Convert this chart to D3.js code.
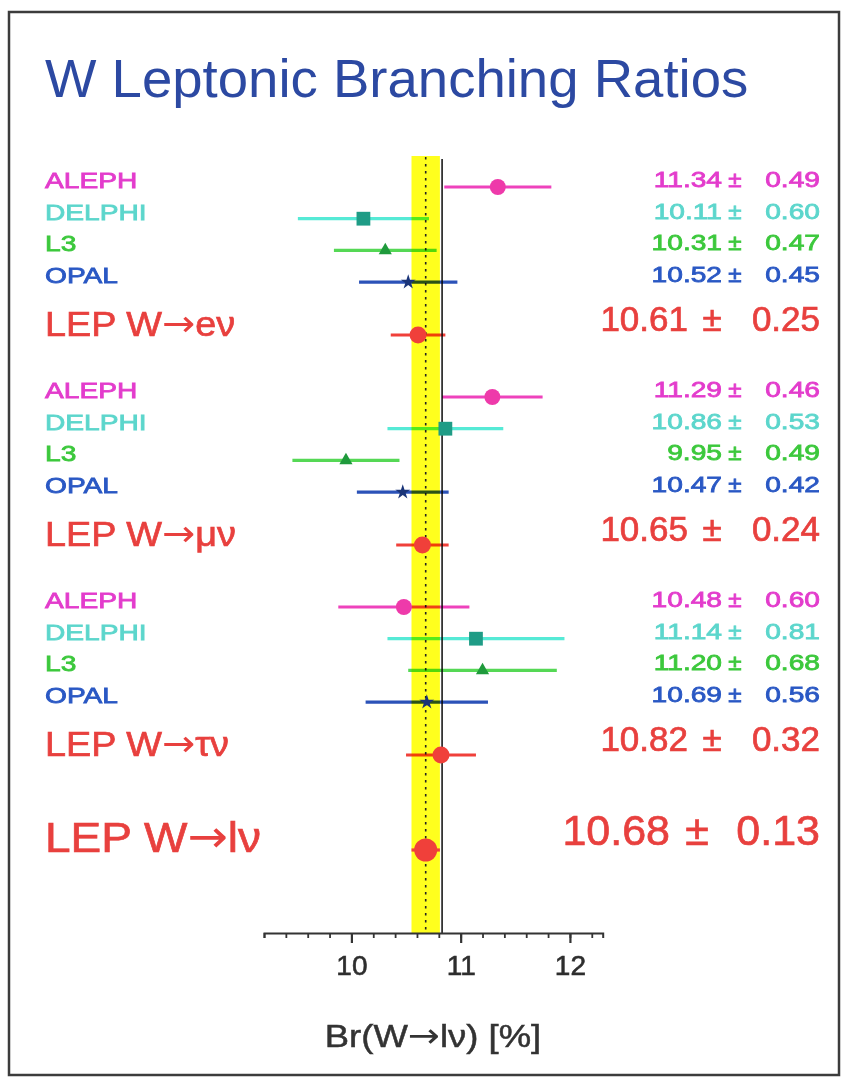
<!DOCTYPE html>
<html>
<head>
<meta charset="utf-8">
<script src="https://cdn.jsdelivr.net/npm/d3@7"></script>
<style>
  html, body { margin: 0; padding: 0; background: #fff; }
  svg { display: block; }
  text { font-family: "Liberation Sans", Arial, Helvetica, sans-serif; }
</style>
</head>
<body>
<svg id="chart" width="844" height="1080"></svg>
<script>
// W leptonic branching ratios measured by the four LEP experiments, in %
const experiments = ["ALEPH", "DELPHI", "L3", "OPAL"];
const channels = ["e", "μ", "τ"];
const channelLabels = ["LEP W→eν", "LEP W→μν", "LEP W→τν"];

const brValues = [
  [11.34, 10.11, 10.31, 10.52],   // W→eν
  [11.29, 10.86,  9.95, 10.47],   // W→μν
  [10.48, 11.14, 11.20, 10.69]    // W→τν
];
const brErrors = [
  [0.49, 0.60, 0.47, 0.45],
  [0.46, 0.53, 0.49, 0.42],
  [0.60, 0.81, 0.68, 0.56]
];
const lepValues = [10.61, 10.65, 10.82];
const lepErrors = [0.25, 0.24, 0.32];

const combinedLabel = "LEP W→lν";
const combinedValue = 10.68;
const combinedError = 0.13;

const smPrediction = 10.83;

const tickValues = [10, 11, 12];
const axisTitle = "Br(W→lν) [%]";
const chartTitle = "W Leptonic Branching Ratios";

// ---- styling ----
const expStyle = {
  ALEPH:  { bar: "#ee42bc", text: "#e33ccc", mark: "#ee3aaa", symbol: d3.symbolCircle,   size: 200 },
  DELPHI: { bar: "#56ead6", text: "#5cd6cc", mark: "#1f9c86", symbol: d3.symbolSquare,   size: 190 },
  L3:     { bar: "#55d855", text: "#3cc83c", mark: "#1f9a3c", symbol: d3.symbolTriangle, size: 75 },
  OPAL:   { bar: "#2b52b8", text: "#2a58c4", mark: "#1a3478", symbol: d3.symbolStar,     size: 70 }
};
const lepColor = "#f0403a";
const lepText = "#e8403e";

const svg = d3.select("#chart");

// outer frame
svg.append("rect")
  .attr("x", 9).attr("y", 12).attr("width", 830).attr("height", 1063)
  .attr("fill", "#fff").attr("stroke", "#3c3c3c").attr("stroke-width", 2.5);

// scales
const x = d3.scaleLinear().domain([9.2, 12.3]).range([264, 602.7]);
// vertical layout: each channel block has four experiment rows and a LEP row
const rowStep = 31.7, groupStep = 210, lepOffset = 148, firstRow = 187;
const y = d3.scaleLinear().domain([0, 1]).range([firstRow, firstRow + rowStep]);
const rowY = (g, i) => y(0) + g * groupStep + i * rowStep;
const lepY = g => y(0) + g * groupStep + lepOffset;
const combinedY = 850;
const axisY = 933;

// title
svg.append("text")
  .attr("x", 45).attr("y", 97)
  .attr("fill", "#2c49a2")
  .attr("font-size", 54)
  .attr("transform", "translate(45,0) scale(1.01,1) translate(-45,0)")
  .text(chartTitle);

// average band, average (dotted) and prediction (solid) lines
svg.append("rect")
  .attr("x", x(combinedValue - combinedError))
  .attr("y", 156)
  .attr("width", x(combinedValue + combinedError) - x(combinedValue - combinedError))
  .attr("height", axisY - 156)
  .attr("fill", "#ffff1e");

svg.append("line")
  .attr("x1", x(combinedValue)).attr("x2", x(combinedValue))
  .attr("y1", 157).attr("y2", axisY)
  .attr("stroke", "#222").attr("stroke-width", 1.6)
  .attr("stroke-dasharray", "2.5,4.5");

svg.append("line")
  .attr("x1", x(smPrediction)).attr("x2", x(smPrediction))
  .attr("y1", 159).attr("y2", axisY)
  .attr("stroke", "#1a1a1a").attr("stroke-width", 1.6);

// text helper: horizontal stretch, optional stroke for weight,
// and a wider arrow glyph taken from DejaVu Sans
function label(g, str, px, py, opts) {
  const t = g.append("text")
    .attr("transform", `translate(${px},${py}) scale(${opts.sx || 1},1)`)
    .attr("font-size", opts.size)
    .attr("fill", opts.fill)
    .attr("text-anchor", opts.anchor || "start");
  if (opts.stroke) t.attr("stroke", opts.fill).attr("stroke-width", opts.stroke);
  const parts = str.split("→");
  parts.forEach((p, k) => {
    if (k > 0) {
      t.append("tspan")
        .attr("font-family", "DejaVu Sans, sans-serif")
        .attr("stroke-width", 0)
        .attr("font-size", opts.size * 1.05)
        .text("→");
    }
    if (p) t.append("tspan").text(p);
  });
  return t;
}

const fmt = d3.format(".2f");
const marks = svg.append("g");
const texts = svg.append("g");

channels.forEach((ch, g) => {
  experiments.forEach((exp, i) => {
    const st = expStyle[exp];
    const v = brValues[g][i], e = brErrors[g][i];
    const yy = rowY(g, i);

    marks.append("line")
      .attr("x1", x(v - e)).attr("x2", x(v + e))
      .attr("y1", yy).attr("y2", yy)
      .attr("stroke", st.bar).attr("stroke-width", 3.2)
      .style("mix-blend-mode", "multiply");
    marks.append("path")
      .attr("d", d3.symbol().type(st.symbol).size(st.size)())
      .attr("transform", `translate(${x(v)},${yy})`)
      .attr("fill", st.mark);

    const small = { size: 22, sx: 1.28, fill: st.text, stroke: 0.8 };
    label(texts, exp, 45, yy + 1, small);
    label(texts, fmt(v), 722, yy, { ...small, anchor: "end" });
    label(texts, "±", 735, yy, { ...small, sx: 1.1, anchor: "middle" });
    label(texts, fmt(e), 820, yy, { ...small, anchor: "end" });
  });

  // LEP average for this channel
  const v = lepValues[g], e = lepErrors[g], yy = lepY(g);
  marks.append("line")
    .attr("x1", x(v - e)).attr("x2", x(v + e))
    .attr("y1", yy).attr("y2", yy)
    .attr("stroke", lepColor).attr("stroke-width", 3.2)
    .style("mix-blend-mode", "multiply");
  marks.append("circle")
    .attr("cx", x(v)).attr("cy", yy).attr("r", 8.5)
    .attr("fill", lepColor);

  const big = { size: 35, fill: lepText, stroke: 0.7 };
  label(texts, channelLabels[g], 45, yy + 1, { ...big, sx: 1.08 });
  label(texts, fmt(v), 688, yy - 4, { ...big, anchor: "end" });
  label(texts, "±", 712, yy - 4, { ...big, anchor: "middle" });
  label(texts, fmt(e), 820, yy - 4, { ...big, anchor: "end" });
});

// overall LEP combination
marks.append("line")
  .attr("x1", x(combinedValue - combinedError)).attr("x2", x(combinedValue + combinedError))
  .attr("y1", combinedY).attr("y2", combinedY)
  .attr("stroke", lepColor).attr("stroke-width", 3.2);
marks.append("circle")
  .attr("cx", x(combinedValue)).attr("cy", combinedY).attr("r", 11.5)
  .attr("fill", lepColor);

const huge = { size: 43, fill: lepText, stroke: 0.7 };
label(texts, combinedLabel, 45, combinedY + 2, { ...huge, sx: 1.07 });
label(texts, fmt(combinedValue), 670, combinedY - 5, { ...huge, anchor: "end" });
label(texts, "±", 697, combinedY - 5, { ...huge, anchor: "middle" });
label(texts, fmt(combinedError), 820, combinedY - 5, { ...huge, anchor: "end" });

// x axis: minor ticks every 0.2, labelled majors
const axisG = svg.append("g").attr("transform", `translate(0,${axisY})`);
const minorTicks = d3.range(0, 16).map(k => +(9.2 + k * 0.2).toFixed(1));
axisG.call(d3.axisBottom(x).tickValues(minorTicks).tickSize(5).tickFormat(""))
  .call(g => g.select(".domain").attr("stroke", "#333").attr("stroke-width", 2))
  .call(g => g.selectAll(".tick line").attr("stroke", "#333").attr("stroke-width", 1.8));
const majorG = svg.append("g").attr("transform", `translate(0,${axisY})`);
majorG.call(d3.axisBottom(x).tickValues(tickValues).tickSize(10).tickFormat(d3.format("d")))
  .call(g => g.select(".domain").remove())
  .call(g => g.selectAll(".tick line").attr("stroke", "#333").attr("stroke-width", 2.2))
  .call(g => g.selectAll(".tick text")
    .attr("font-family", "Liberation Sans, Arial, sans-serif")
    .attr("font-size", 28).attr("fill", "#2e2e2e")
    .attr("stroke", "#2e2e2e").attr("stroke-width", 0.6)
    .attr("y", 42).attr("dy", 0));

label(svg, axisTitle, 433, 1047, { size: 32, sx: 1.14, fill: "#333", stroke: 0.5, anchor: "middle" });
</script>
</body>
</html>
